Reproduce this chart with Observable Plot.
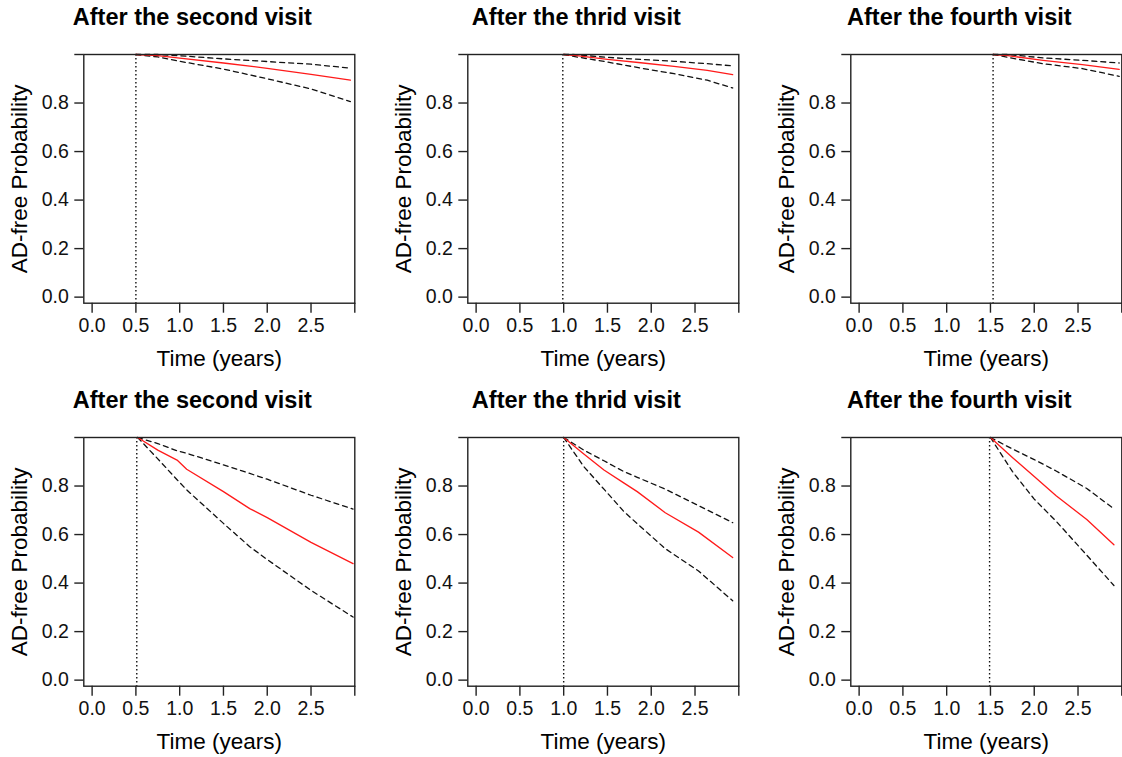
<!DOCTYPE html>
<html>
<head>
<meta charset="utf-8">
<script src="https://cdn.jsdelivr.net/npm/d3@7"></script>
<script src="https://cdn.jsdelivr.net/npm/@observablehq/plot@0.6"></script>
<style>
  html, body { margin: 0; padding: 0; background: #fff; overflow: hidden; }
  #wrap { position: relative; width: 1122px; height: 757px; overflow: hidden; }
  .panel { position: absolute; width: 384px; height: 383px; }
  .panel svg { max-width: none !important; font-family: "Liberation Sans", Arial, sans-serif; }
</style>
</head>
<body>
<div id="wrap"></div>
<script>
// ---- Data ----
const titles = ["After the second visit", "After the thrid visit", "After the fourth visit"];
const xTicks = [0, 0.5, 1.0, 1.5, 2.0, 2.5, 3.0];
const yTicks = [0, 0.2, 0.4, 0.6, 0.8, 1.0];

// Top row
const landmarksTop = [0.5, 0.99, 1.53];
const timeT1  = [0.5, 0.75, 1.0, 1.5, 2.0, 2.5, 2.95];
const estT1   = [1.0, 0.995, 0.985, 0.965, 0.943, 0.918, 0.894];
const upT1    = [1.0, 1.0, 0.995, 0.982, 0.971, 0.960, 0.944];
const lowT1   = [1.0, 0.99, 0.972, 0.940, 0.900, 0.858, 0.806];

const timeT2  = [1.0, 1.1, 1.5, 1.88, 2.26, 2.64, 2.93];
const estT2   = [1.0, 0.997, 0.980, 0.966, 0.951, 0.935, 0.917];
const upT2    = [1.0, 1.0, 0.988, 0.980, 0.972, 0.962, 0.953];
const lowT2   = [1.0, 0.993, 0.969, 0.944, 0.921, 0.894, 0.862];

const timeT3  = [1.53, 1.7, 2.1, 2.55, 2.97];
const estT3   = [1.0, 0.995, 0.976, 0.958, 0.939];
const upT3    = [1.0, 1.0, 0.986, 0.976, 0.965];
const lowT3   = [1.0, 0.988, 0.962, 0.942, 0.910];

// Bottom row
const landmarksBottom = [0.51, 1.0, 1.49];
const timeB1  = [0.52, 0.75, 0.97, 1.08, 1.5, 1.8, 2.0, 2.5, 2.98];
const estB1   = [1.0, 0.948, 0.907, 0.869, 0.777, 0.707, 0.670, 0.568, 0.480];
const upB1    = [1.0, 0.975, 0.945, 0.935, 0.887, 0.852, 0.828, 0.762, 0.705];
const lowB1   = [1.0, 0.912, 0.826, 0.784, 0.646, 0.550, 0.497, 0.370, 0.260];

const timeB2  = [1.0, 1.23, 1.46, 1.69, 1.84, 2.16, 2.54, 2.93];
const estB2   = [1.0, 0.932, 0.866, 0.812, 0.777, 0.690, 0.610, 0.505];
const upB2    = [1.0, 0.948, 0.904, 0.859, 0.836, 0.787, 0.719, 0.649];
const lowB2   = [1.0, 0.880, 0.787, 0.694, 0.645, 0.542, 0.450, 0.327];

const timeB3  = [1.5, 1.75, 2.0, 2.25, 2.6, 2.91];
const estB3   = [1.0, 0.918, 0.839, 0.760, 0.662, 0.558];
const upB3    = [1.0, 0.953, 0.909, 0.862, 0.790, 0.706];
const lowB3   = [1.0, 0.860, 0.746, 0.655, 0.515, 0.390];

const panels = [
  {row: 0, col: 0, title: titles[0], lm: landmarksTop[0], t: timeT1, est: estT1, up: upT1, low: lowT1},
  {row: 0, col: 1, title: titles[1], lm: landmarksTop[1], t: timeT2, est: estT2, up: upT2, low: lowT2},
  {row: 0, col: 2, title: titles[2], lm: landmarksTop[2], t: timeT3, est: estT3, up: upT3, low: lowT3},
  {row: 1, col: 0, title: titles[0], lm: landmarksBottom[0], t: timeB1, est: estB1, up: upB1, low: lowB1},
  {row: 1, col: 1, title: titles[1], lm: landmarksBottom[1], t: timeB2, est: estB2, up: upB2, low: lowB2},
  {row: 1, col: 2, title: titles[2], lm: landmarksBottom[2], t: timeB3, est: estB3, up: upB3, low: lowB3}
];

const W = 384, H = 383;
const ML = 83.3, MR = 29.7, MT = 54, MB = 80.3;
const colLeft = [0, 383.5, 767.3];
const rowTop = [0, 383.3];

const wrap = document.getElementById("wrap");
for (const p of panels) {
  const rows = (arr) => p.t.map((t, i) => ({t, v: arr[i]}));
  const chart = Plot.plot({
    width: W, height: H,
    marginLeft: ML, marginRight: MR, marginTop: MT, marginBottom: MB,
    style: {background: "#fff", color: "#111", overflow: "visible", maxWidth: "none", fontSize: "19.5px"},
    x: {domain: [-0.095, 3.0]},
    y: {domain: [-0.025, 1.0]},
    marks: [
      Plot.ruleX([p.lm], {stroke: "#111", strokeWidth: 1.4, strokeDasharray: "1.4,2.6"}),
      Plot.line(rows(p.up), {x: "t", y: "v", stroke: "#111", strokeWidth: 1.3, strokeDasharray: "5,4"}),
      Plot.line(rows(p.low), {x: "t", y: "v", stroke: "#111", strokeWidth: 1.3, strokeDasharray: "5,4"}),
      Plot.line(rows(p.est), {x: "t", y: "v", stroke: "#ff1a1a", strokeWidth: 1.3}),
      Plot.frame({stroke: "#222", strokeWidth: 1.4}),
      Plot.axisX({ticks: xTicks, tickFormat: d => d >= 3 ? "" : d.toFixed(1), tickSize: 10, tickPadding: 5, fontSize: 19.5, label: null, stroke: "#222", strokeWidth: 1.4, fill: "#111"}),
      Plot.axisY({ticks: yTicks, tickFormat: d => d >= 1 ? "" : d.toFixed(1), tickSize: 9, tickPadding: 6, fontSize: 19.5, label: null, stroke: "#222", strokeWidth: 1.4, fill: "#111"}),
      Plot.text([p.title], {frameAnchor: "top", dx: -27, dy: -37.3, fontSize: 23.5, fontWeight: "bold", fill: "#000", lineAnchor: "middle"}),
      Plot.text(["Time (years)"], {frameAnchor: "bottom", dy: 55.3, fontSize: 22.5, fill: "#000", lineAnchor: "middle"}),
      Plot.text(["AD-free Probability"], {frameAnchor: "left", dx: -64.3, rotate: -90, fontSize: 22.5, fill: "#000", textAnchor: "middle", lineAnchor: "middle"})
    ]
  });
  const div = document.createElement("div");
  div.className = "panel";
  div.style.left = colLeft[p.col] + "px";
  div.style.top = rowTop[p.row] + "px";
  div.appendChild(chart);
  wrap.appendChild(div);
}
</script>
</body>
</html>
